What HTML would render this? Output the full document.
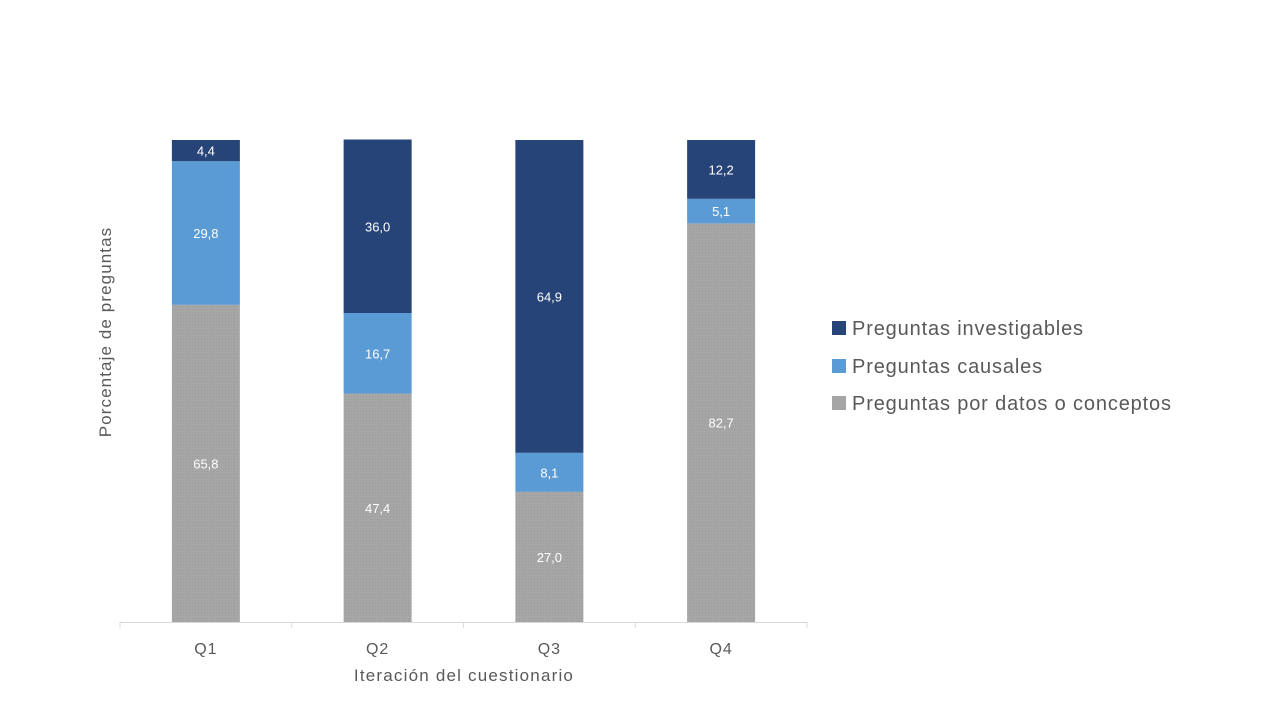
<!DOCTYPE html>
<html><head><meta charset="utf-8"><style>
html,body{margin:0;padding:0;background:#fff;width:1280px;height:720px;overflow:hidden;font-family:"Liberation Sans",sans-serif;}
</style></head><body>
<svg id="chart" width="1280" height="720" xmlns="http://www.w3.org/2000/svg" font-family="Liberation Sans, sans-serif">
<defs>
<pattern id="dots" width="3" height="3" patternUnits="userSpaceOnUse">
<rect width="3" height="3" fill="#a6a6a6"/><rect width="1" height="1" fill="#9a9a9a"/>
</pattern>
</defs>
<g id="bars"></g>
<g id="axis"></g>
<text transform="translate(111,332) rotate(-90)" text-anchor="middle" font-size="17" letter-spacing="1.1" fill="#595959">Porcentaje de preguntas</text>
<text x="464" y="681" text-anchor="middle" font-size="17" letter-spacing="1.2" fill="#595959">Iteración del cuestionario</text>
<g>
<rect x="832" y="321" width="14" height="14" fill="#264478"/>
<text x="852" y="335" font-size="20" letter-spacing="0.85" fill="#595959">Preguntas investigables</text>
<rect x="832" y="359" width="14" height="14" fill="#5b9bd5"/>
<text x="852" y="373" font-size="20" letter-spacing="0.85" fill="#595959">Preguntas causales</text>
<rect x="832" y="396" width="14" height="14" fill="#a5a5a5"/>
<text x="852" y="410" font-size="20" letter-spacing="0.85" fill="#595959">Preguntas por datos o conceptos</text>
</g>
</svg>
<script>
const categories = ["Q1","Q2","Q3","Q4"];
const datos = [65.8,47.4,27.0,82.7];
const causales = [29.8,16.7,8.1,5.1];
const investigables = [4.4,36.0,64.9,12.2];

const NS="http://www.w3.org/2000/svg";
const x0=120,x1=807,yBase=622,yTop=140;
const band=(x1-x0)/categories.length, barW=68;
const xC=i=>x0+band*(i+0.5);
const yS=v=>(yBase-yTop)*v/100;
const bars=document.getElementById('bars');
const axis=document.getElementById('axis');
function mk(tag,attrs,parent){const e=document.createElementNS(NS,tag);for(const k in attrs)e.setAttribute(k,attrs[k]);parent.appendChild(e);return e;}
const series=[{vals:datos,fill:"url(#dots)",name:"datos"},{vals:causales,fill:"#5b9bd5",name:"causales"},{vals:investigables,fill:"#264478",name:"investigables"}];
categories.forEach((c,i)=>{
  let y=yBase;
  series.forEach(s=>{
    const h=yS(s.vals[i]);
    const r=mk('rect',{x:xC(i)-barW/2,y:y-h,width:barW,height:h,fill:s.fill},bars);
    
    
    const t=mk('text',{x:xC(i),y:y-h/2+5,'text-anchor':'middle','font-size':13,fill:'#fff'},bars);
    
    
    t.textContent=s.vals[i].toFixed(1).replace('.',',');
    y-=h;
  });
  const l=mk('text',{x:xC(i),y:654,'text-anchor':'middle','font-size':16,'letter-spacing':1,fill:'#595959'},axis);
  
  
  l.textContent=c;
});
const ln=mk('line',{x1:x0,x2:x1,y1:yBase+0.5,y2:yBase+0.5,stroke:'#d9d9d9'},axis);


for(let i=0;i<=categories.length;i++){
  const tk=mk('line',{x1:x0+band*i,x2:x0+band*i,y1:yBase,y2:yBase+6,stroke:'#d9d9d9'},axis);
  
  
}
</script>
</body></html>
